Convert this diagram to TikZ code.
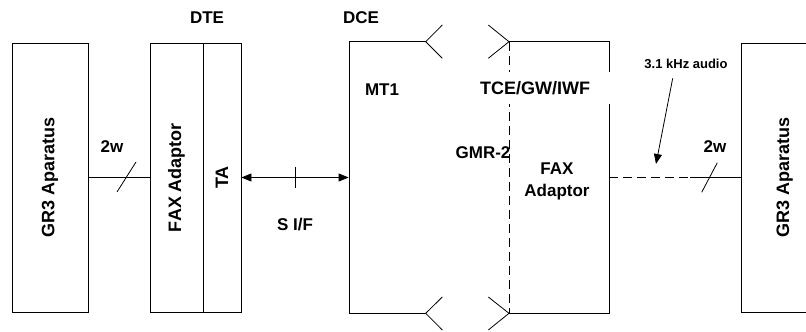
\documentclass[tikz,border=0pt]{standalone}
\usepackage{fontspec}
\setmainfont{Liberation Sans}
\usetikzlibrary{arrows.meta}
\begin{document}
\begin{tikzpicture}[x=1pt,y=-1pt,line width=0.8pt,
  lbl/.style={font=\fontsize{17}{22}\selectfont\bfseries, inner sep=0pt},
  sml/.style={font=\fontsize{13}{15}\selectfont\bfseries, inner sep=0pt},
  box/.style={draw, inner sep=0pt, minimum height=269pt, font=\fontsize{18}{22}\selectfont\bfseries},
  dsh/.style={dash pattern=on 9pt off 5pt},
  mytip/.tip={Triangle[length=10pt,width=8pt]}]
\useasboundingbox (0,0) rectangle (806,332);
% boxes
\node[box, minimum width=76pt] (gr3l) at (50,177.5) {\rotatebox{90}{GR3 Aparatus}};
\node[box, minimum width=53pt] (fax) at (176.5,177.5) {\rotatebox{90}{FAX Adaptor}};
\node[box, minimum width=38pt] (ta) at (222,177.5) {\rotatebox{90}{TA}};
\node[box, minimum width=86pt] (gr3r) at (784.7,177.5) {\rotatebox{90}{GR3 Aparatus}};
\node[inner sep=0pt, minimum width=260pt, minimum height=271.6pt] (dce) at (479,177.5) {};
% DCE outline
\draw (425.7,41.7) -- (349,41.7) -- (349,313.3) -- (425.7,313.3);
\draw (442.3,25) -- (425.7,41.7) -- (442.3,58.3);
\draw (488.3,25) -- (509,41.7) -- (488.3,58.3);
\draw (442.3,297) -- (425.7,313.3) -- (442.3,330);
\draw (488.3,297) -- (509,313.3) -- (488.3,330);
\draw (509,41.7) -- (609,41.7) -- (609,313.3) -- (509,313.3);
\draw[dsh] (509,41.7) -- (509,313.3);
% labels
\node[lbl] (dte) at (207,18) {DTE};
\node[lbl] (dcel) at (361,18) {DCE};
\node[lbl] (mt1) at (382,90) {MT1};
\node[lbl, font=\fontsize{18}{22}\selectfont\bfseries, fill=white, minimum width=154pt, minimum height=32pt] (tce) at (535,88) {TCE/GW/IWF};
\node[lbl] (gmr) at (483,153) {GMR-2};
\node[lbl, align=center] (faxr) at (557,181) {FAX\\Adaptor};
\node[lbl] (w2l) at (112,147) {2w};
\node[lbl] (w2r) at (715,147) {2w};
\node[lbl] (sif) at (295,225) {S I/F};
\node[sml] (aud) at (686,64) {3.1 kHz audio};
% connectors
\draw (gr3l.east) -- (fax.west);
\draw (117,192) -- (136,162);
\draw[mytip-mytip] (ta.east) -- (dce.west);
\draw (295,167) -- (295,188);
\coordinate (sw) at (690,177.5);
\draw[dsh] (dce.east) -- (sw);
\draw (sw) -- (gr3r.west);
\draw (701.7,192.3) -- (717.3,162.7);
\draw[-mytip] (672.7,78.3) -- (656,164);
\end{tikzpicture}
\end{document}
